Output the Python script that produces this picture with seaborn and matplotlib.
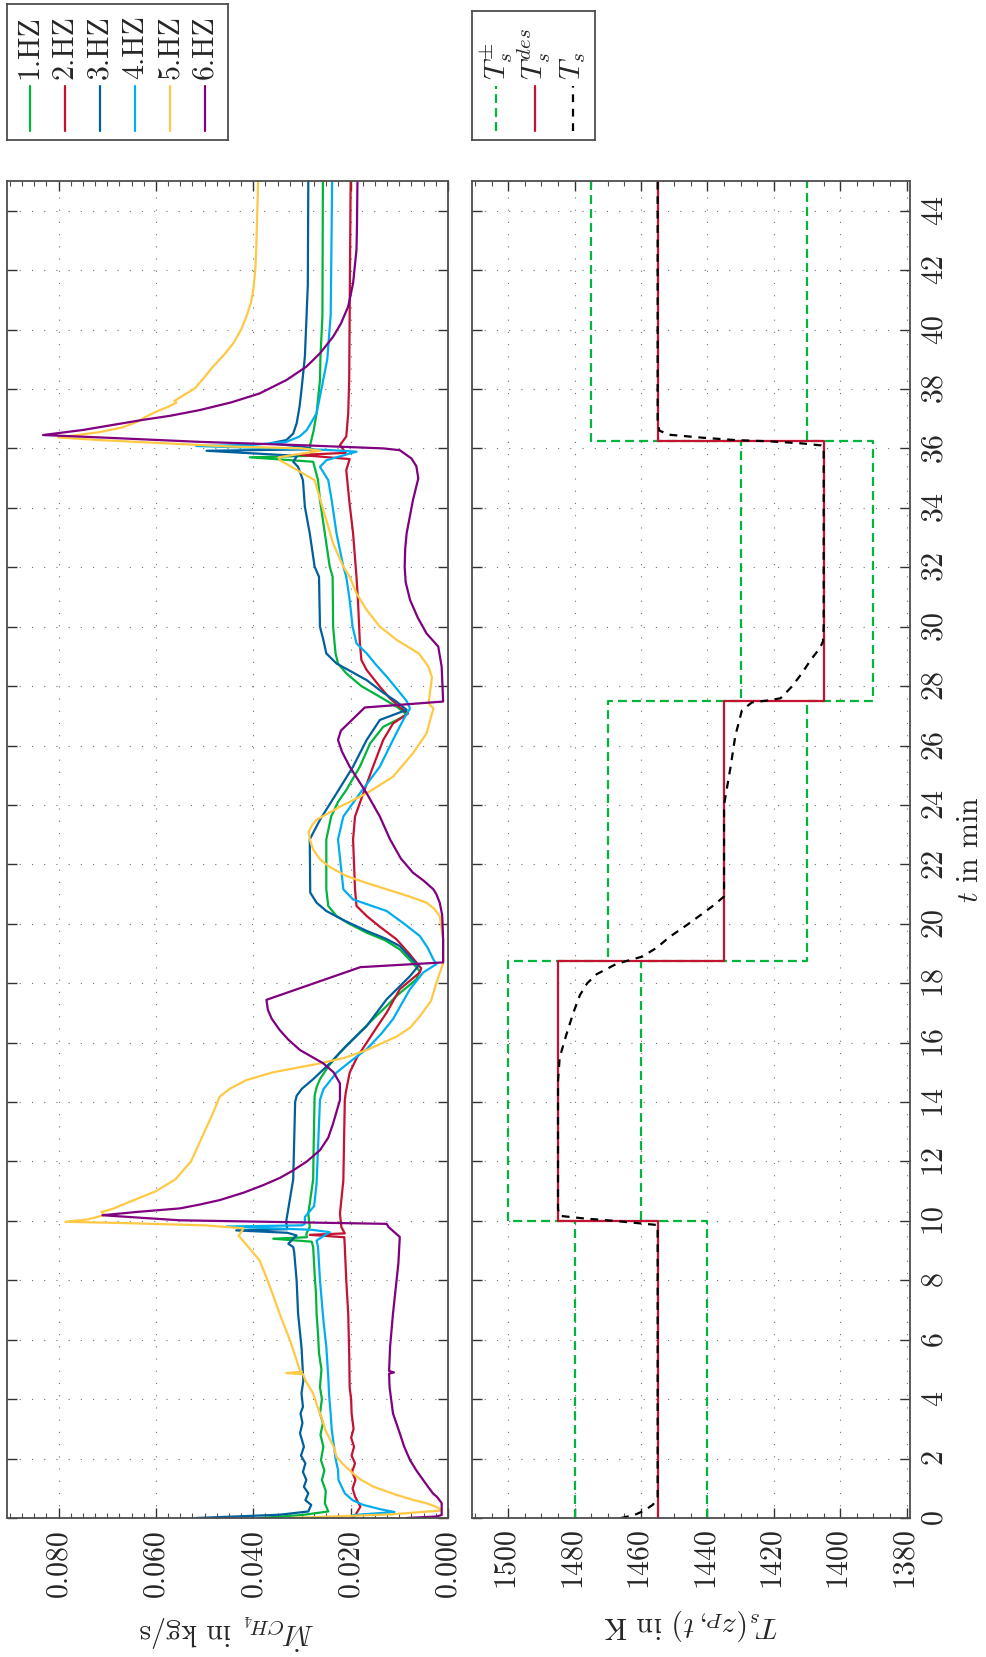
import numpy as np
import matplotlib
matplotlib.use("Agg")
import matplotlib.pyplot as plt
import seaborn as sns
from matplotlib.ticker import MultipleLocator, StrMethodFormatter

# ---------------- data ----------------
series_names = ["1.HZ", "2.HZ", "3.HZ", "4.HZ", "5.HZ", "6.HZ"]
series_colors = ["#00B43C", "#C41230", "#00609C", "#00AEEF", "#FFC845", "#800080"]

t_hz1 = [0, 0.1, 0.22, 0.5, 0.9, 1.28, 1.6, 1.95, 2.4, 2.8, 3.2, 3.52, 4.0, 4.4, 5.0, 5.54, 6.2, 6.88, 7.5, 8.22,
         9.12, 9.3, 9.4, 9.45, 9.57, 9.8, 10.24, 11.4, 12.5, 14.21, 14.5, 14.77, 15.2, 15.67, 16.2, 16.79, 17.2,
         17.57, 18.13, 18.4, 18.6, 19.14, 19.45, 19.7, 20.0, 20.26, 20.6, 21.16, 22.84, 23.61, 24.1, 24.5, 25.29,
         26.07, 26.63, 26.91, 27.05, 27.3, 27.64, 28.0, 28.43, 28.76, 29.1, 29.44, 30.0, 31.68, 32.02, 33.14, 34.26,
         34.93, 35.55, 35.7, 35.75, 36.06, 36.6, 37.18, 38.3, 39.09, 40.44, 45]
m_hz1 = [0.0387, 0.030, 0.0246, 0.0253, 0.0251, 0.0259, 0.0254, 0.0261, 0.0256, 0.0262, 0.0257, 0.0263, 0.0259,
         0.0263, 0.0260, 0.0265, 0.0267, 0.0270, 0.0271, 0.0274, 0.0277, 0.0280, 0.0359, 0.0290, 0.0291, 0.0284,
         0.0287, 0.0277, 0.0276, 0.0274, 0.0270, 0.0263, 0.0246, 0.0222, 0.0190, 0.0154, 0.0128, 0.0106, 0.0065,
         0.0058, 0.0068, 0.0099, 0.0130, 0.0167, 0.0203, 0.0229, 0.0246, 0.0250, 0.0250, 0.0240, 0.0226, 0.0209,
         0.0181, 0.0160, 0.0133, 0.0099, 0.0085, 0.0105, 0.0140, 0.0178, 0.0209, 0.0226, 0.0231, 0.0233, 0.0236,
         0.0237, 0.0243, 0.0253, 0.0263, 0.0267, 0.0277, 0.0407, 0.0280, 0.0284, 0.0276, 0.0270, 0.0263, 0.0262,
         0.0258, 0.0257]

t_hz2 = [0, 0.16, 0.38, 0.72, 1.0, 1.28, 1.55, 1.84, 2.1, 2.4, 2.7, 3.0, 3.52, 4.0, 4.4, 5.54, 6.88, 8.0, 9.12,
         9.45, 9.53, 9.58, 9.79, 10.24, 11.36, 14.07, 14.32, 14.99, 15.5, 16.0, 16.5, 17.01, 17.8, 18.36, 18.5,
         19.0, 19.48, 19.9, 20.26, 20.6, 21.16, 22.84, 23.61, 24.39, 25.29, 26.19, 26.74, 27.08, 27.3, 27.6, 27.98,
         28.54, 28.88, 29.44, 30.9, 31.68, 33.14, 34.26, 35.27, 35.64, 35.78, 35.85, 36.11, 36.4, 37.18, 38.3, 45]
m_hz2 = [0.0195, 0.0188, 0.0180, 0.0191, 0.0196, 0.0190, 0.0197, 0.0191, 0.0198, 0.0193, 0.0199, 0.0194, 0.0198,
         0.0199, 0.0202, 0.0203, 0.0205, 0.0209, 0.0212, 0.0213, 0.0284, 0.0212, 0.0219, 0.0222, 0.0215, 0.0212,
         0.0210, 0.0202, 0.0187, 0.0167, 0.0147, 0.0126, 0.0099, 0.0058, 0.0055, 0.0080, 0.0106, 0.0140, 0.0167,
         0.0188, 0.0191, 0.0195, 0.0191, 0.0174, 0.0154, 0.0133, 0.0113, 0.0082, 0.0100, 0.0120, 0.0140, 0.0167,
         0.0178, 0.0181, 0.0185, 0.0188, 0.0195, 0.0203, 0.0209, 0.0202, 0.0304, 0.0210, 0.0222, 0.0209, 0.0205,
         0.0203, 0.0200]

t_hz3 = [0, 0.11, 0.22, 0.44, 0.6, 0.83, 1.05, 1.28, 1.55, 1.84, 2.1, 2.4, 2.85, 3.2, 3.52, 3.74, 4.2, 4.64, 4.86,
         5.76, 6.88, 8.0, 8.95, 9.12, 9.23, 9.4, 9.51, 9.6, 9.68, 9.72, 9.9, 10.02, 11.4, 14.0, 14.21, 14.45,
         14.77, 15.3, 15.89, 16.56, 17.0, 17.46, 18.24, 18.58, 19.25, 19.5, 19.76, 20.1, 20.43, 20.71, 21.05, 22.84,
         23.5, 24.39, 25.29, 26.19, 26.86, 27.2, 27.48, 27.8, 28.2, 28.5, 28.76, 29.1, 29.55, 30.0, 31.68, 32.02,
         33.14, 34.03, 34.93, 35.38, 35.55, 35.75, 35.92, 35.97, 36.06, 36.17, 36.28, 36.5, 36.84, 37.4, 37.97,
         39.09, 41.5, 45]
m_hz3 = [0.0517, 0.0346, 0.0287, 0.0281, 0.0293, 0.0287, 0.0296, 0.0291, 0.0298, 0.0293, 0.0302, 0.0296, 0.0304,
         0.0299, 0.0303, 0.0298, 0.0301, 0.0297, 0.0298, 0.0301, 0.0308, 0.0311, 0.0316, 0.0318, 0.0328, 0.0318,
         0.0311, 0.0330, 0.0435, 0.0330, 0.0332, 0.0332, 0.0318, 0.0314, 0.0311, 0.0300, 0.0277, 0.0243, 0.0209,
         0.0167, 0.0147, 0.0126, 0.0078, 0.0061, 0.0099, 0.0128, 0.0167, 0.0212, 0.0250, 0.0270, 0.0283, 0.0284,
         0.0263, 0.0229, 0.0195, 0.0167, 0.0140, 0.0085, 0.0106, 0.0135, 0.0167, 0.0200, 0.0229, 0.0250, 0.0256,
         0.0263, 0.0265, 0.0274, 0.0284, 0.0294, 0.0298, 0.0308, 0.0318, 0.0310, 0.0496, 0.0277, 0.0300, 0.0366,
         0.0332, 0.0318, 0.0311, 0.0305, 0.0301, 0.0294, 0.0288, 0.0287]

t_hz4 = [0, 0.1, 0.2, 0.3, 0.44, 0.6, 0.83, 1.28, 1.62, 2.0, 2.4, 2.62, 3.0, 3.5, 4.08, 4.75, 5.76, 6.66, 8.0, 9.12,
         9.34, 9.62, 9.7, 9.81, 9.85, 9.9, 10.13, 10.5, 11.26, 14.07, 14.43, 14.99, 15.4, 15.78, 16.3, 16.79, 17.8,
         18.36, 18.64, 18.8, 19.2, 19.59, 20.0, 20.43, 20.82, 21.16, 22.84, 23.61, 24.39, 25.29, 26.19, 26.86,
         27.25, 27.5, 27.9, 28.32, 28.7, 29.1, 29.44, 30.0, 30.9, 31.68, 32.02, 33.14, 34.26, 34.93, 35.38, 35.6,
         35.89, 35.95, 36.08, 36.12, 36.22, 36.4, 36.62, 37.18, 38.0, 39.0, 40.5, 45]
m_hz4 = [0.0200, 0.0195, 0.0110, 0.0140, 0.0174, 0.0196, 0.0212, 0.0225, 0.0226, 0.0231, 0.0234, 0.0236, 0.0239,
         0.0241, 0.0244, 0.0246, 0.0250, 0.0256, 0.0263, 0.0267, 0.0270, 0.0243, 0.0280, 0.0455, 0.0300, 0.0294,
         0.0294, 0.0275, 0.0270, 0.0263, 0.0256, 0.0229, 0.0198, 0.0167, 0.0137, 0.0113, 0.0078, 0.0051, 0.0024,
         0.0030, 0.0042, 0.0058, 0.0090, 0.0126, 0.0195, 0.0215, 0.0226, 0.0215, 0.0181, 0.0140, 0.0113, 0.0092,
         0.0078, 0.0085, 0.0105, 0.0126, 0.0147, 0.0167, 0.0188, 0.0196, 0.0202, 0.0209, 0.0215, 0.0229, 0.0239,
         0.0246, 0.0263, 0.0250, 0.0188, 0.0250, 0.0517, 0.0400, 0.0332, 0.0305, 0.0290, 0.0270, 0.0260, 0.0248,
         0.0241, 0.0238]

t_hz5 = [0, 0.12, 0.25, 0.35, 0.5, 0.61, 0.8, 1.06, 1.3, 1.5, 1.8, 2.06, 2.4, 2.96, 3.3, 3.74, 4.19, 4.6, 4.84, 4.88,
         4.92, 5.0, 5.31, 6.0, 6.88, 7.8, 8.67, 9.12, 9.5, 9.75, 9.85, 9.92, 9.97, 10.05, 10.2, 10.3, 10.4, 10.6,
         11.0, 11.4, 12.0, 12.83, 13.62, 14.18, 14.45, 14.74, 15.0, 15.3, 15.5, 15.75, 16.2, 16.5, 16.88, 17.4,
         18.0, 18.67, 19.48, 20.26, 20.5, 20.71, 20.95, 21.16, 21.4, 21.61, 21.9, 22.17, 22.5, 22.84, 23.1, 23.3,
         23.5, 23.94, 24.39, 24.95, 25.74, 26.41, 27.25, 27.42, 28.3, 28.65, 29.1, 29.55, 30.0, 30.56, 31.12, 31.68,
         32.02, 32.8, 33.92, 34.93, 35.27, 35.6, 35.7, 35.8, 35.92, 36.0, 36.06, 36.17, 36.28, 36.37, 36.45, 36.55,
         36.7, 36.9, 37.07, 37.24, 37.4, 37.54, 37.6, 37.74, 38.02, 38.4, 38.75, 39.15, 39.54, 40.0, 40.44, 40.9,
         41.34, 42.0, 42.69, 45]
m_hz5 = [0.0325, 0.0120, 0.0015, 0.0020, 0.0045, 0.0072, 0.0110, 0.0154, 0.0180, 0.0195, 0.0215, 0.0229, 0.0235,
         0.0252, 0.0258, 0.0268, 0.0277, 0.0292, 0.0298, 0.0332, 0.0300, 0.0305, 0.0311, 0.0325, 0.0346, 0.0366,
         0.0387, 0.0410, 0.0430, 0.0420, 0.0500, 0.0650, 0.0786, 0.0740, 0.0705, 0.0712, 0.0690, 0.0660, 0.0600,
         0.0560, 0.0528, 0.0505, 0.0483, 0.0469, 0.0448, 0.0414, 0.0360, 0.0263, 0.0210, 0.0167, 0.0106, 0.0078,
         0.0058, 0.0035, 0.0024, 0.0010, 0.0010, 0.0017, 0.0028, 0.0044, 0.0085, 0.0126, 0.0172, 0.0209, 0.0242,
         0.0263, 0.0277, 0.0284, 0.0286, 0.0280, 0.0270, 0.0222, 0.0167, 0.0113, 0.0072, 0.0044, 0.0030, 0.0040,
         0.0033, 0.0040, 0.0060, 0.0105, 0.0140, 0.0167, 0.0188, 0.0202, 0.0215, 0.0236, 0.0256, 0.0274, 0.0310,
         0.0345, 0.0348, 0.0310, 0.0262, 0.0300, 0.0442, 0.0579, 0.0716, 0.0801, 0.0760, 0.0715, 0.0670, 0.0638,
         0.0620, 0.0599, 0.0575, 0.0558, 0.0562, 0.0548, 0.0520, 0.0500, 0.0483, 0.0460, 0.0441, 0.0425, 0.0414,
         0.0405, 0.0400, 0.0396, 0.0394, 0.0390]

t_hz6 = [0, 0.05, 0.1, 0.5, 0.7, 0.83, 1.05, 1.28, 1.6, 1.95, 2.4, 2.85, 3.52, 4.4, 4.86, 4.9, 4.95, 5.76, 6.88,
         8.56, 9.46, 9.79, 9.9, 10.02, 10.19, 10.3, 10.42, 10.55, 10.7, 10.95, 11.2, 11.45, 11.7, 12.0, 12.38,
         12.8, 13.28, 14.07, 14.63, 15.0, 15.3, 15.75, 16.1, 16.43, 16.8, 17.1, 17.44, 18.54, 18.7, 19.48, 20.3,
         20.71, 21.0, 21.16, 21.45, 21.72, 22.2, 22.84, 23.61, 24.39, 25.29, 25.8, 26.19, 26.5, 27.28, 27.48,
         28.65, 29.33, 29.77, 30.3, 30.9, 31.5, 32.02, 32.6, 33.14, 34.26, 34.99, 35.4, 35.66, 35.94, 36.0, 36.11,
         36.22, 36.37, 36.45, 36.62, 36.8, 36.96, 37.1, 37.29, 37.55, 37.85, 38.3, 38.75, 39.2, 39.76, 40.2,
         40.78, 41.56, 42.69, 43.5, 45]
m_hz6 = [0.0085, 0.0024, 0.0013, 0.0013, 0.0022, 0.0031, 0.0041, 0.0051, 0.0065, 0.0078, 0.0090, 0.0099, 0.0113,
         0.0120, 0.0121, 0.0111, 0.0121, 0.0119, 0.0113, 0.0102, 0.0099, 0.0122, 0.0126, 0.0551, 0.0710, 0.0640,
         0.0551, 0.0510, 0.0469, 0.0420, 0.0380, 0.0345, 0.0318, 0.0290, 0.0263, 0.0246, 0.0236, 0.0222, 0.0222,
         0.0235, 0.0256, 0.0304, 0.0328, 0.0346, 0.0362, 0.0370, 0.0373, 0.0180, 0.0010, 0.0010, 0.0012, 0.0017,
         0.0024, 0.0030, 0.0050, 0.0072, 0.0097, 0.0119, 0.0140, 0.0167, 0.0202, 0.0218, 0.0226, 0.0220, 0.0171,
         0.0010, 0.0013, 0.0020, 0.0044, 0.0062, 0.0078, 0.0087, 0.0089, 0.0088, 0.0085, 0.0072, 0.0061, 0.0065,
         0.0075, 0.0099, 0.0133, 0.0305, 0.0510, 0.0716, 0.0832, 0.0750, 0.0685, 0.0627, 0.0570, 0.0510, 0.0445,
         0.0387, 0.0332, 0.0291, 0.0263, 0.0236, 0.0220, 0.0205, 0.0195, 0.0188, 0.0187, 0.0186]

# Temperature panel
seg_breaks = [0, 10, 18.75, 27.5, 36.25, 45]
T_des = [1455, 1485, 1435, 1405, 1455]
T_upper = [1480, 1500, 1470, 1430, 1475]
T_lower = [1440, 1460, 1410, 1390, 1410]

t_Ts = [0, 0.1, 0.25, 0.45, 0.7, 9.86, 10.0, 10.08, 10.17, 10.4, 14.7, 15.5, 16.3, 17.0, 17.6, 18.0, 18.3, 18.65,
        18.9, 19.2, 19.55, 19.95, 20.34, 20.65, 20.92, 21.5, 24.0, 25.3, 26.33, 27.19, 27.45, 27.52, 27.59, 27.98,
        28.41, 28.91, 29.27, 29.5, 30.0, 36.05, 36.1, 36.17, 36.24, 36.28, 36.36, 36.46, 36.6, 36.96, 45]
T_s = [1466, 1462, 1459, 1456.4, 1455, 1455, 1468, 1477, 1484.5, 1485, 1485, 1484.5, 1482.4, 1480.4, 1478.4,
       1476.2, 1473.4, 1467.4, 1459.5, 1455.2, 1451.5, 1446.3, 1441.5, 1437.8, 1435, 1435, 1435, 1433, 1431.6,
       1429.6, 1426.6, 1421.6, 1418, 1414.6, 1411.7, 1408.7, 1406.2, 1405.2, 1405, 1405, 1405.7, 1411.7, 1421.6,
       1431.6, 1441.5, 1451.5, 1454.5, 1455, 1455]

m_ticks = [0.0, 0.02, 0.04, 0.06, 0.08]
T_ticks = [1380, 1400, 1420, 1440, 1460, 1480, 1500]
t_ticks = list(range(0, 45, 2))

# ---------------- style ----------------
sns.set_style("white")
plt.rcParams["font.family"] = ["cmr10", "DejaVu Serif"]
plt.rcParams["mathtext.fontset"] = "cm"
plt.rcParams["axes.formatter.use_mathtext"] = True
plt.rcParams["axes.unicode_minus"] = False

FS = 21.5
GREEN, RED = "#00B43C", "#C41230"
SPINE = "0.3"

fig = plt.figure(figsize=(9.86, 16.57), dpi=100)
W, H = 986.0, 1657.0
ax1 = fig.add_axes([6.5 / W, 1 - 1518 / H, 441.5 / W, 1337 / H])
ax2 = fig.add_axes([472 / W, 1 - 1518 / H, 438 / W, 1337 / H])

series_t = [t_hz1, t_hz2, t_hz3, t_hz4, t_hz5, t_hz6]
series_m = [m_hz1, m_hz2, m_hz3, m_hz4, m_hz5, m_hz6]
for tt, mm, c in zip(series_t, series_m, series_colors):
    sns.lineplot(x=mm, y=tt, sort=False, estimator=None, color=c, lw=1.6, ax=ax1, legend=False)


def steps(breaks, vals):
    tb = np.repeat(breaks, 2)[1:-1]
    vb = np.repeat(vals, 2)
    return tb, vb


tb, ub = steps(seg_breaks, T_upper)
sns.lineplot(x=ub, y=tb, sort=False, estimator=None, color=GREEN, lw=1.6,
             linestyle=(0, (4.0, 2.3)), ax=ax2, legend=False)
tb, lb = steps(seg_breaks, T_lower)
sns.lineplot(x=lb, y=tb, sort=False, estimator=None, color=GREEN, lw=1.6,
             linestyle=(0, (4.0, 2.3)), ax=ax2, legend=False)
tb, db = steps(seg_breaks, T_des)
sns.lineplot(x=db, y=tb, sort=False, estimator=None, color=RED, lw=1.6, ax=ax2, legend=False)
sns.lineplot(x=T_s, y=t_Ts, sort=False, estimator=None, color="black", lw=1.6,
             linestyle=(0, (3.5, 3.0)), ax=ax2, legend=False)

for ax in (ax1, ax2):
    ax.set_ylim(0, 45)
    ax.set_yticks(t_ticks)
    ax.grid(True, which="major", color="0.45", lw=0.8, ls=(0, (1, 10)))
    ax.tick_params(which="major", direction="in", length=7, width=1.0, color="0.2",
                   top=True, bottom=True, left=True, right=True, labelsize=FS, pad=8)
    ax.tick_params(which="minor", direction="in", length=3.5, width=0.8, color="0.3",
                   top=True, bottom=True, left=False, right=False)
    for s in ax.spines.values():
        s.set_color(SPINE)
        s.set_linewidth(1.3)
    ax.set_xlabel("")
    ax.set_ylabel("")

ax1.set_xlim(0.0907, 0)
ax1.set_xticks(m_ticks)
ax1.xaxis.set_minor_locator(MultipleLocator(0.0025))
ax1.xaxis.set_major_formatter(StrMethodFormatter("{x:.3f}"))
ax1.tick_params(axis="y", labelleft=False, labelright=False)

ax2.set_xlim(1510.9, 1379)
ax2.set_xticks(T_ticks)
ax2.xaxis.set_minor_locator(MultipleLocator(5))
ax2.tick_params(axis="y", labelleft=False, labelright=True, pad=8)

for ax in (ax1, ax2):
    for lab in ax.get_xticklabels():
        lab.set_rotation(90)
        lab.set_ha("center")
        lab.set_va("top")
for lab in ax2.get_yticklabels():
    lab.set_rotation(90)
    lab.set_va("center")
    lab.set_ha("left")

ax1.set_xlabel(r"$\dot{M}_{CH_4}$ in kg/s", fontsize=FS, rotation=180, va="center", ha="center")
ax1.xaxis.set_label_coords(0.5, -0.085)
ax2.set_xlabel(r"$T_s(z_P,t)$ in K", fontsize=FS, rotation=180, va="center", ha="center")
ax2.xaxis.set_label_coords(0.5, -0.080)
ax2.yaxis.set_label_position("right")
ax2.set_ylabel(r"$t$ in min", fontsize=FS, rotation=90, va="center", ha="center")
ax2.yaxis.set_label_coords(1.137, 0.5)

# ---------------- legends (rotated layout) ----------------
leg1 = fig.add_axes([7 / W, 1 - 140 / H, 221 / W, 136 / H])
leg2 = fig.add_axes([472 / W, 1 - 140 / H, 123 / W, 129 / H])
for lg in (leg1, leg2):
    lg.set_xlim(0, 1)
    lg.set_ylim(0, 1)
    lg.set_xticks([])
    lg.set_yticks([])
    lg.set_facecolor("white")
    for s in lg.spines.values():
        s.set_color(SPINE)
        s.set_linewidth(1.3)

for i, (name, c) in enumerate(zip(series_names, series_colors)):
    xc = (30 + 35 * i - 7) / 221
    leg1.plot([xc, xc], [0.066, 0.397], color=c, lw=1.6)
    leg1.text(xc, 0.45, name, rotation=90, ha="center", va="bottom", fontsize=FS)

leg2_labels = [r"$T_s^{\pm}$", r"$T_s^{des}$", r"$T_s$"]
leg2_colors = [GREEN, RED, "black"]
leg2_styles = [(0, (4.0, 2.3)), "-", (0, (3.5, 3.0))]
for i, (lab, c, ls) in enumerate(zip(leg2_labels, leg2_colors, leg2_styles)):
    xc = [0.195, 0.512, 0.821][i]
    leg2.plot([xc, xc], [0.07, 0.42], color=c, lw=1.6, ls=ls)
    leg2.text(xc, 0.465, lab, rotation=90, ha="center", va="bottom", fontsize=FS)

fig.savefig("out.png", dpi=100)
